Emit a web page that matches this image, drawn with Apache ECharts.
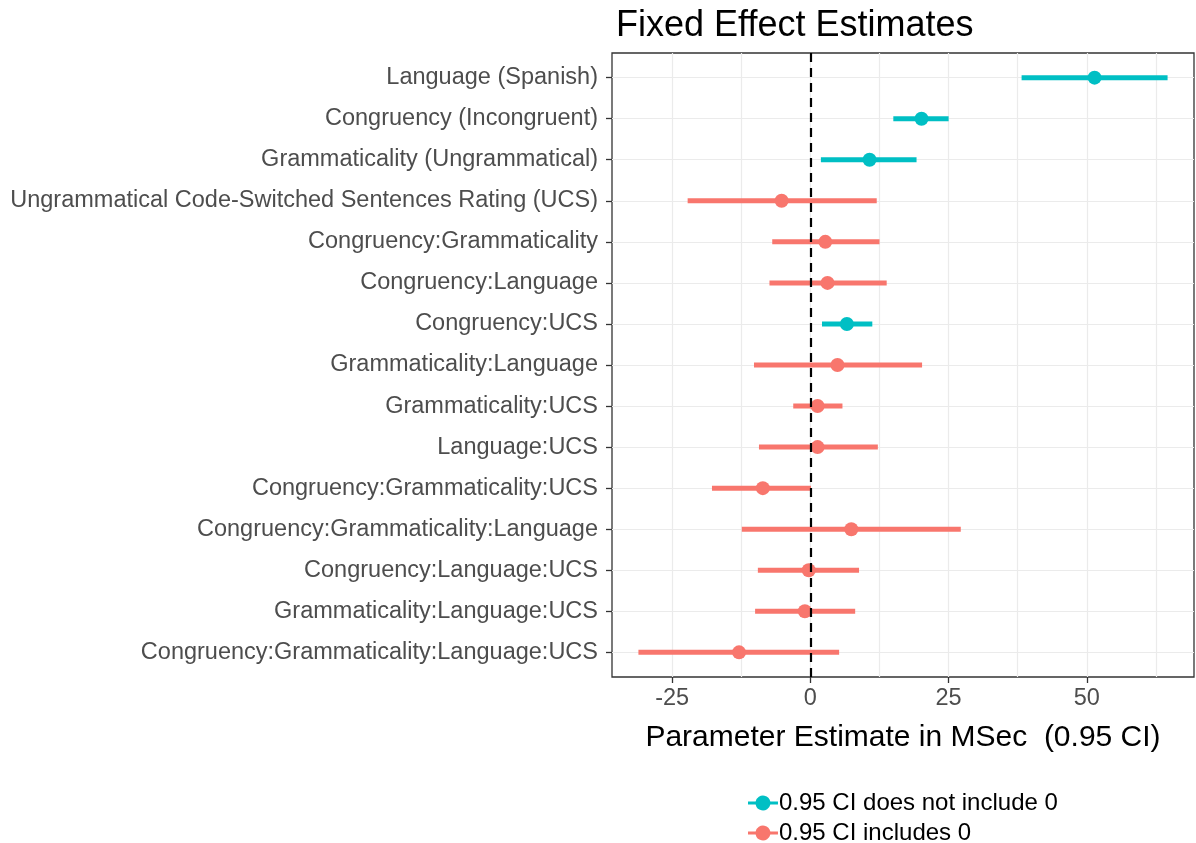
<!DOCTYPE html>
<html>
<head>
<meta charset="utf-8">
<script src="https://cdn.jsdelivr.net/npm/echarts@6/dist/echarts.min.js"></script>
<style>
html,body{margin:0;padding:0;background:#fff;}
#chart{width:1196px;height:843px;}
</style>
</head>
<body>
<div id="chart"></div>
<script>
const categories = [
  "Language (Spanish)",
  "Congruency (Incongruent)",
  "Grammaticality (Ungrammatical)",
  "Ungrammatical Code-Switched Sentences Rating (UCS)",
  "Congruency:Grammaticality",
  "Congruency:Language",
  "Congruency:UCS",
  "Grammaticality:Language",
  "Grammaticality:UCS",
  "Language:UCS",
  "Congruency:Grammaticality:UCS",
  "Congruency:Grammaticality:Language",
  "Congruency:Language:UCS",
  "Grammaticality:Language:UCS",
  "Congruency:Grammaticality:Language:UCS"
];
const estimates = [51.4, 20.1, 10.7, -5.2, 2.7, 3.1, 6.6, 4.9, 1.3, 1.3, -8.6, 7.4, -0.3, -1.0, -12.9];
const lowerCI   = [38.2, 15.0, 1.9, -22.2, -6.9, -7.4, 2.1, -10.2, -3.1, -9.3, -17.8, -12.4, -9.5, -10.0, -31.1];
const upperCI   = [64.6, 25.0, 19.2, 12.0, 12.5, 13.8, 11.2, 20.2, 5.8, 12.2, 0.1, 27.2, 8.8, 8.1, 5.2];
const xTickValues = [-25, 0, 25, 50];
const xMinorGrid = [-12.5, 12.5, 37.5, 62.5];
const referenceValue = 0;
const groupNames = ["0.95 CI does not include 0", "0.95 CI includes 0"];
const groupColors = ["#00BFC4", "#F8766D"];

const n = categories.length;
const idx = categories.map((_, i) => i);
const isSig = idx.map(i => lowerCI[i] > 0 || upperCI[i] < 0);
const dataMin = Math.min(...lowerCI), dataMax = Math.max(...upperCI);
const pad = (dataMax - dataMin) * 0.05;

const font = "'Liberation Sans', Arial, sans-serif";
const chart = echarts.init(document.getElementById('chart'));

const barData = idx.map(i => [i, lowerCI[i], upperCI[i], isSig[i] ? 0 : 1]);
const pts = g => idx.filter(i => (isSig[i] ? 0 : 1) === g).map(i => [estimates[i], i]);

const legendIcon = 'path://M0,6.5H7.65A7.5,7.5 0 0,1 22.35,6.5H30V9.5H22.35A7.5,7.5 0 0,1 7.65,9.5H0Z';

chart.setOption({
  animation: false,
  backgroundColor: '#fff',
  textStyle: {fontFamily: font},
  title: {
    text: 'Fixed Effect Estimates',
    left: 611, top: 3,
    textStyle: {fontFamily: font, fontSize: 36, fontWeight: 'normal', color: '#000'}
  },
  legend: {
    orient: 'vertical',
    left: 748, top: 791,
    padding: 0,
    height: 60,
    itemGap: 6,
    itemWidth: 30, itemHeight: 15,
    icon: legendIcon,
    data: groupNames,
    textStyle: {fontFamily: font, fontSize: 24, color: '#000', padding: [0,0,0,-4]}
  },
  grid: {
    left: 612, right: 2, top: 53, bottom: 166,
    show: true, borderColor: '#333', borderWidth: 1.3, backgroundColor: '#fff'
  },
  xAxis: {
    type: 'value',
    min: +(dataMin - pad).toFixed(2),
    max: +(dataMax + pad).toFixed(2),
    axisLine: {show: false, onZero: false},
    axisTick: {show: true, customValues: xTickValues, length: 6, lineStyle: {color: '#333', width: 1.3}},
    axisLabel: {customValues: xTickValues, margin: 10, fontSize: 23.5, color: '#4d4d4d', fontFamily: font},
    splitLine: {show: true, lineStyle: {color: '#ebebeb', width: 1.2}},
    name: 'Parameter Estimate in MSec  (0.95 CI)',
    nameLocation: 'middle',
    nameGap: 46,
    nameTextStyle: {fontSize: 30, color: '#000', fontFamily: font}
  },
  yAxis: {
    type: 'value',
    inverse: true,
    min: -0.6, max: n - 1 + 0.6,
    axisLine: {show: false, onZero: false},
    axisTick: {show: true, customValues: idx, length: 6, lineStyle: {color: '#333', width: 1.3}},
    axisLabel: {customValues: idx, margin: 14, fontSize: 23.5, color: '#4d4d4d', fontFamily: font,
      formatter: v => categories[Math.round(v)]},
    splitLine: {show: true, lineStyle: {color: '#ebebeb', width: 1.2}}
  },
  series: [
    {
      type: 'custom',
      name: 'ci',
      z: 3,
      data: barData,
      encode: {x: [1, 2], y: 0},
      renderItem: (params, api) => {
        const y = api.value(0);
        const a = api.coord([api.value(1), y]);
        const b = api.coord([api.value(2), y]);
        return {type: 'line', shape: {x1: a[0], y1: a[1], x2: b[0], y2: b[1]},
          style: {stroke: groupColors[api.value(3)], lineWidth: 5}};
      },
      markLine: {
        silent: true, symbol: 'none', z: 1,
        label: {show: false},
        lineStyle: {color: '#ebebeb', width: 1.2, type: 'solid'},
        data: xMinorGrid.map(v => ({xAxis: v}))
      }
    },
    {
      type: 'scatter', name: groupNames[0], z: 4,
      symbol: 'circle', symbolSize: 14,
      itemStyle: {color: groupColors[0], opacity: 1},
      data: pts(0),
      markLine: {
        silent: true, symbol: 'none', z: 6,
        label: {show: false},
        lineStyle: {color: '#000', width: 2.2, type: [9, 6]},
        data: [{xAxis: referenceValue}]
      }
    },
    {
      type: 'scatter', name: groupNames[1], z: 4,
      symbol: 'circle', symbolSize: 14,
      itemStyle: {color: groupColors[1], opacity: 1},
      data: pts(1)
    }
  ]
});
</script>
</body>
</html>
